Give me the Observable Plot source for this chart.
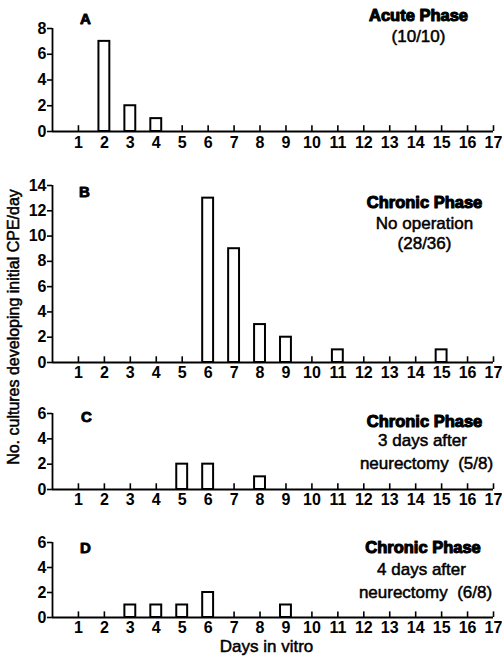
<!DOCTYPE html>
<html>
<head>
<meta charset="utf-8">
<script src="https://cdn.jsdelivr.net/npm/d3@7"></script>
<script src="https://cdn.jsdelivr.net/npm/@observablehq/plot@0.6"></script>
<style>
  html, body { margin: 0; padding: 0; background: white; }
  #chart { position: relative; width: 502px; height: 660px; background: white; overflow: hidden; }
  #chart svg { position: absolute; left: 0; overflow: visible; }
  #chart svg text { white-space: pre; }
  #ytitle { position: absolute; left: 14px; top: 327px; transform: translate(-50%, -50%) rotate(-90deg);
    font-family: "Liberation Sans", Arial, sans-serif; font-size: 16px; white-space: nowrap; color: black;
    -webkit-text-stroke: 0.5px black; }
</style>
</head>
<body>
<div id="chart"><div id="ytitle">No. cultures developing initial CPE/day</div></div>
<script>
// ---- data ----
const days = [1,2,3,4,5,6,7,8,9,10,11,12,13,14,15,16,17];

const acuteDays = [2, 3, 4];
const acuteCounts = [7, 2, 1];

const noOpDays = [6, 7, 8, 9, 11, 15];
const noOpCounts = [13, 9, 3, 2, 1, 1];

const neur3Days = [5, 6, 8];
const neur3Counts = [2, 2, 1];

const neur4Days = [3, 4, 5, 6, 9];
const neur4Counts = [1, 1, 1, 2, 1];

const yTicksA = [0, 2, 4, 6, 8];
const yTicksB = [0, 2, 4, 6, 8, 10, 12, 14];
const yTicksC = [0, 2, 4, 6];
const yTicksD = [0, 2, 4, 6];

const panelLetters = ["A", "B", "C", "D"];
const titleA = ["Acute Phase", "(10/10)"];
const titleB = ["Chronic Phase", "No operation", "(28/36)"];
const titleC = ["Chronic Phase", "3 days after", "neurectomy  (5/8)"];
const titleD = ["Chronic Phase", "4 days after", "neurectomy  (6/8)"];
const xTitle = "Days in vitro";

const FONT = '"Liberation Sans", Arial, sans-serif';

function panel({top, height, marginTop, marginBottom, yMax, yTicks, xs, ys, letter, letterPos, lines, tickPad, extra = []}) {
  const data = xs.map((d, i) => ({day: d, n: ys[i]}));
  const marks = [
    Plot.ruleX(days, {x: d => d, y1: 0, y2: 0.45, stroke: "black", strokeWidth: 1.6}),
    Plot.rectY(data, {x1: d => d.day - 0.21, x2: d => d.day + 0.21, y: "n",
      fill: "white", stroke: "black", strokeWidth: 2}),
    Plot.ruleY([0], {stroke: "black", strokeWidth: 1.8}),
    Plot.ruleX([0], {stroke: "black", strokeWidth: 1.8}),
    Plot.axisY({ticks: yTicks, tickSize: 5, tickPadding: 1, fontSize: 16, fontWeight: "bold", strokeWidth: 1.6,
      label: null, tickFormat: d => String(d)}),
    Plot.axisX({ticks: days, tickSize: 0, tickPadding: tickPad, fontSize: 16, fontWeight: "bold",
      label: null, tickFormat: d => String(d)}),
    Plot.text([letter], {frameAnchor: "top-left", dx: letterPos[0], dy: letterPos[1], text: d => d,
      fontSize: 15, fontWeight: "bold", stroke: "black", strokeWidth: 0.9, paintOrder: "normal", fill: "black",
      textAnchor: "middle", lineAnchor: "middle"}),
    ...lines.map((l, i) => Plot.text([l.t], {frameAnchor: "top-left", dx: l.dx, dy: l.dy, text: d => d,
      fontSize: i === 0 ? 16.5 : 17, fontWeight: i === 0 ? "bold" : "normal",
      stroke: "black", strokeWidth: i === 0 ? 1.1 : 0.5, paintOrder: "normal", fill: "black",
      textAnchor: "middle", lineAnchor: "middle"})),
    ...extra
  ];
  const svg = Plot.plot({
    width: 502, height, marginTop, marginBottom, marginLeft: 52, marginRight: 9,
    x: {domain: [0, 17], axis: null},
    y: {domain: [0, yMax], axis: null},
    style: {fontFamily: FONT, fontSize: "16px", background: "transparent", color: "black", overflow: "visible"},
    marks
  });
  svg.style.top = top + "px";
  document.getElementById("chart").appendChild(svg);
}

panel({top: 0, height: 160, marginTop: 28, marginBottom: 29, yMax: 8, yTicks: yTicksA,
  xs: acuteDays, ys: acuteCounts, letter: panelLetters[0], letterPos: [33, -9.5], tickPad: 5,
  lines: [{t: titleA[0], dx: 366, dy: -13}, {t: titleA[1], dx: 366, dy: 8.5}]});

panel({top: 160, height: 224, marginTop: 25, marginBottom: 22, yMax: 14, yTicks: yTicksB,
  xs: noOpDays, ys: noOpCounts, letter: panelLetters[1], letterPos: [32, 7], tickPad: 4.5,
  lines: [{t: titleB[0], dx: 372, dy: 17.5}, {t: titleB[1], dx: 372, dy: 38}, {t: titleB[2], dx: 372, dy: 58}]});

panel({top: 380, height: 131, marginTop: 33, marginBottom: 22, yMax: 6, yTicks: yTicksC,
  xs: neur3Days, ys: neur3Counts, letter: panelLetters[2], letterPos: [34, 4], tickPad: 4,
  lines: [{t: titleC[0], dx: 372, dy: 8.5}, {t: titleC[1], dx: 370, dy: 27}, {t: titleC[2], dx: 374, dy: 50}]});

panel({top: 520, height: 140, marginTop: 22, marginBottom: 43, yMax: 6, yTicks: yTicksD,
  xs: neur4Days, ys: neur4Counts, letter: panelLetters[3], letterPos: [33, 5.5], tickPad: 4.5,
  lines: [{t: titleD[0], dx: 370.5, dy: 5.5}, {t: titleD[1], dx: 369, dy: 27}, {t: titleD[2], dx: 373, dy: 50.5}],
  extra: [Plot.text([xTitle], {frameAnchor: "top-left", dx: 214, dy: 104, text: d => d, fontSize: 17,
    stroke: "black", strokeWidth: 0.5, paintOrder: "normal", fill: "black", textAnchor: "middle", lineAnchor: "middle"})]});
</script>
</body>
</html>
